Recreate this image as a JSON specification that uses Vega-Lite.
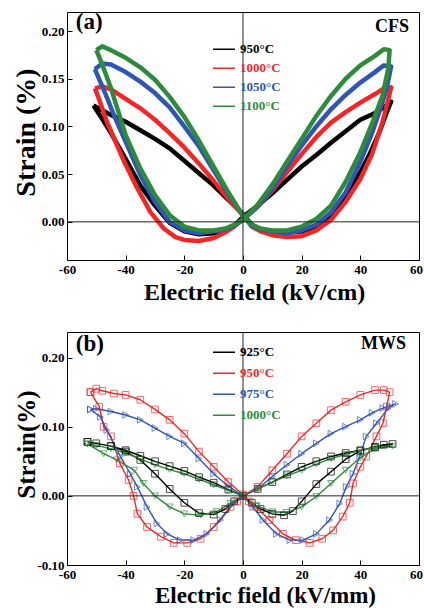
{
  "$schema": "https://vega.github.io/schema/vega-lite/v6.json",
  "background": "white",
  "padding": {"left": 11, "top": 10, "right": 0, "bottom": 0},
  "spacing": 26,
  "config": {
    "font": "Liberation Serif",
    "view": {"stroke": "#000000", "strokeWidth": 1},
    "axis": {"domain": false, "grid": false, "ticks": true, "tickColor": "#000000", "tickWidth": 1, "labelFont": "Liberation Serif", "labelFontWeight": "bold", "labelFontSize": 13, "labelColor": "#000000", "labelPadding": 8, "labelOverlap": false, "labelFlush": false, "titleFont": "Liberation Serif", "titleFontWeight": "bold", "titleColor": "#000000", "titleBaseline": "alphabetic"},
    "legend": {"labelFont": "Liberation Serif", "labelFontWeight": "bold", "labelFontSize": 13, "padding": 0, "title": null}
  },
  "datasets": {
    "a": [
      {"s":"950°C","i":0,"E":-51,"S":0.122},{"s":"950°C","i":1,"E":-48,"S":0.117},{"s":"950°C","i":2,"E":-45,"S":0.112},{"s":"950°C","i":3,"E":-40,"S":0.105},{"s":"950°C","i":4,"E":-35,"S":0.096},{"s":"950°C","i":5,"E":-30,"S":0.087},{"s":"950°C","i":6,"E":-25,"S":0.077},{"s":"950°C","i":7,"E":-20,"S":0.064},{"s":"950°C","i":8,"E":-15,"S":0.051},{"s":"950°C","i":9,"E":-10,"S":0.038},{"s":"950°C","i":10,"E":-5,"S":0.023},{"s":"950°C","i":11,"E":0,"S":0.008},
      {"s":"950°C","i":12,"E":3,"S":-0.003},{"s":"950°C","i":13,"E":6,"S":-0.008},{"s":"950°C","i":14,"E":10,"S":-0.010},{"s":"950°C","i":15,"E":15,"S":-0.011},{"s":"950°C","i":16,"E":20,"S":-0.010},{"s":"950°C","i":17,"E":25,"S":-0.005},{"s":"950°C","i":18,"E":30,"S":0.007},{"s":"950°C","i":19,"E":35,"S":0.028},{"s":"950°C","i":20,"E":40,"S":0.052},{"s":"950°C","i":21,"E":43,"S":0.070},{"s":"950°C","i":22,"E":46.5,"S":0.094},{"s":"950°C","i":23,"E":49,"S":0.115},{"s":"950°C","i":24,"E":50.5,"S":0.126},
      {"s":"950°C","i":25,"E":48,"S":0.120},{"s":"950°C","i":26,"E":45,"S":0.114},{"s":"950°C","i":27,"E":40,"S":0.107},{"s":"950°C","i":28,"E":35,"S":0.095},{"s":"950°C","i":29,"E":30,"S":0.083},{"s":"950°C","i":30,"E":25,"S":0.070},{"s":"950°C","i":31,"E":20,"S":0.058},{"s":"950°C","i":32,"E":15,"S":0.044},{"s":"950°C","i":33,"E":10,"S":0.030},{"s":"950°C","i":34,"E":5,"S":0.017},{"s":"950°C","i":35,"E":0,"S":0.005},
      {"s":"950°C","i":36,"E":-3,"S":-0.004},{"s":"950°C","i":37,"E":-6,"S":-0.008},{"s":"950°C","i":38,"E":-10,"S":-0.012},{"s":"950°C","i":39,"E":-15,"S":-0.013},{"s":"950°C","i":40,"E":-20,"S":-0.010},{"s":"950°C","i":41,"E":-25,"S":-0.001},{"s":"950°C","i":42,"E":-30,"S":0.017},{"s":"950°C","i":43,"E":-35,"S":0.038},{"s":"950°C","i":44,"E":-40,"S":0.066},{"s":"950°C","i":45,"E":-45,"S":0.093},{"s":"950°C","i":46,"E":-48,"S":0.108},{"s":"950°C","i":47,"E":-51,"S":0.122},

      {"s":"1000°C","i":0,"E":-50.5,"S":0.140},{"s":"1000°C","i":1,"E":-48,"S":0.142},{"s":"1000°C","i":2,"E":-45,"S":0.139},{"s":"1000°C","i":3,"E":-40,"S":0.129},{"s":"1000°C","i":4,"E":-35,"S":0.119},{"s":"1000°C","i":5,"E":-30,"S":0.107},{"s":"1000°C","i":6,"E":-25,"S":0.093},{"s":"1000°C","i":7,"E":-20,"S":0.078},{"s":"1000°C","i":8,"E":-15,"S":0.061},{"s":"1000°C","i":9,"E":-10,"S":0.043},{"s":"1000°C","i":10,"E":-5,"S":0.024},{"s":"1000°C","i":11,"E":0,"S":0.007},
      {"s":"1000°C","i":12,"E":3,"S":-0.005},{"s":"1000°C","i":13,"E":6,"S":-0.010},{"s":"1000°C","i":14,"E":10,"S":-0.014},{"s":"1000°C","i":15,"E":15,"S":-0.016},{"s":"1000°C","i":16,"E":20,"S":-0.015},{"s":"1000°C","i":17,"E":25,"S":-0.009},{"s":"1000°C","i":18,"E":30,"S":0.002},{"s":"1000°C","i":19,"E":35,"S":0.021},{"s":"1000°C","i":20,"E":40,"S":0.045},{"s":"1000°C","i":21,"E":44,"S":0.071},{"s":"1000°C","i":22,"E":47.5,"S":0.104},{"s":"1000°C","i":23,"E":49.5,"S":0.128},{"s":"1000°C","i":24,"E":50.5,"S":0.141},
      {"s":"1000°C","i":25,"E":48,"S":0.140},{"s":"1000°C","i":26,"E":45,"S":0.134},{"s":"1000°C","i":27,"E":40,"S":0.125},{"s":"1000°C","i":28,"E":35,"S":0.115},{"s":"1000°C","i":29,"E":30,"S":0.104},{"s":"1000°C","i":30,"E":25,"S":0.089},{"s":"1000°C","i":31,"E":20,"S":0.071},{"s":"1000°C","i":32,"E":15,"S":0.052},{"s":"1000°C","i":33,"E":10,"S":0.033},{"s":"1000°C","i":34,"E":5,"S":0.016},{"s":"1000°C","i":35,"E":0,"S":0.003},
      {"s":"1000°C","i":36,"E":-3,"S":-0.005},{"s":"1000°C","i":37,"E":-6,"S":-0.011},{"s":"1000°C","i":38,"E":-10,"S":-0.017},{"s":"1000°C","i":39,"E":-15,"S":-0.020},{"s":"1000°C","i":40,"E":-20,"S":-0.019},{"s":"1000°C","i":41,"E":-23,"S":-0.016},{"s":"1000°C","i":42,"E":-27,"S":-0.007},{"s":"1000°C","i":43,"E":-31.5,"S":0.010},{"s":"1000°C","i":44,"E":-36,"S":0.035},{"s":"1000°C","i":45,"E":-40.5,"S":0.063},{"s":"1000°C","i":46,"E":-46.4,"S":0.105},{"s":"1000°C","i":47,"E":-49,"S":0.128},{"s":"1000°C","i":48,"E":-50.5,"S":0.140},

      {"s":"1050°C","i":0,"E":-50.5,"S":0.160},{"s":"1050°C","i":1,"E":-48,"S":0.166},{"s":"1050°C","i":2,"E":-45,"S":0.165},{"s":"1050°C","i":3,"E":-40,"S":0.157},{"s":"1050°C","i":4,"E":-35,"S":0.147},{"s":"1050°C","i":5,"E":-30,"S":0.135},{"s":"1050°C","i":6,"E":-25,"S":0.120},{"s":"1050°C","i":7,"E":-20,"S":0.100},{"s":"1050°C","i":8,"E":-15,"S":0.079},{"s":"1050°C","i":9,"E":-10,"S":0.054},{"s":"1050°C","i":10,"E":-5,"S":0.029},{"s":"1050°C","i":11,"E":0,"S":0.007},
      {"s":"1050°C","i":12,"E":3,"S":-0.004},{"s":"1050°C","i":13,"E":6,"S":-0.008},{"s":"1050°C","i":14,"E":10,"S":-0.010},{"s":"1050°C","i":15,"E":15,"S":-0.012},{"s":"1050°C","i":16,"E":20,"S":-0.009},{"s":"1050°C","i":17,"E":25,"S":-0.003},{"s":"1050°C","i":18,"E":30,"S":0.010},{"s":"1050°C","i":19,"E":35,"S":0.031},{"s":"1050°C","i":20,"E":40,"S":0.063},{"s":"1050°C","i":21,"E":44,"S":0.093},{"s":"1050°C","i":22,"E":47,"S":0.120},{"s":"1050°C","i":23,"E":49,"S":0.140},{"s":"1050°C","i":24,"E":50.5,"S":0.163},
      {"s":"1050°C","i":25,"E":48,"S":0.164},{"s":"1050°C","i":26,"E":45,"S":0.157},{"s":"1050°C","i":27,"E":40,"S":0.146},{"s":"1050°C","i":28,"E":35,"S":0.133},{"s":"1050°C","i":29,"E":30,"S":0.118},{"s":"1050°C","i":30,"E":25,"S":0.100},{"s":"1050°C","i":31,"E":20,"S":0.080},{"s":"1050°C","i":32,"E":15,"S":0.058},{"s":"1050°C","i":33,"E":10,"S":0.035},{"s":"1050°C","i":34,"E":5,"S":0.016},{"s":"1050°C","i":35,"E":0,"S":0.002},
      {"s":"1050°C","i":36,"E":-3,"S":-0.004},{"s":"1050°C","i":37,"E":-6,"S":-0.008},{"s":"1050°C","i":38,"E":-10,"S":-0.010},{"s":"1050°C","i":39,"E":-15,"S":-0.012},{"s":"1050°C","i":40,"E":-20,"S":-0.009},{"s":"1050°C","i":41,"E":-25,"S":0.000},{"s":"1050°C","i":42,"E":-30,"S":0.021},{"s":"1050°C","i":43,"E":-35,"S":0.049},{"s":"1050°C","i":44,"E":-40,"S":0.084},{"s":"1050°C","i":45,"E":-44,"S":0.112},{"s":"1050°C","i":46,"E":-47,"S":0.135},{"s":"1050°C","i":47,"E":-50.5,"S":0.160},

      {"s":"1100°C","i":0,"E":-50,"S":0.180},{"s":"1100°C","i":1,"E":-48,"S":0.184},{"s":"1100°C","i":2,"E":-45,"S":0.180},{"s":"1100°C","i":3,"E":-40,"S":0.172},{"s":"1100°C","i":4,"E":-35,"S":0.162},{"s":"1100°C","i":5,"E":-30,"S":0.149},{"s":"1100°C","i":6,"E":-25,"S":0.131},{"s":"1100°C","i":7,"E":-20,"S":0.110},{"s":"1100°C","i":8,"E":-15,"S":0.085},{"s":"1100°C","i":9,"E":-10,"S":0.058},{"s":"1100°C","i":10,"E":-5,"S":0.031},{"s":"1100°C","i":11,"E":0,"S":0.006},
      {"s":"1100°C","i":12,"E":3,"S":-0.003},{"s":"1100°C","i":13,"E":6,"S":-0.007},{"s":"1100°C","i":14,"E":10,"S":-0.009},{"s":"1100°C","i":15,"E":15,"S":-0.009},{"s":"1100°C","i":16,"E":20,"S":-0.005},{"s":"1100°C","i":17,"E":25,"S":0.003},{"s":"1100°C","i":18,"E":30,"S":0.017},{"s":"1100°C","i":19,"E":35,"S":0.042},{"s":"1100°C","i":20,"E":40,"S":0.073},{"s":"1100°C","i":21,"E":44,"S":0.103},{"s":"1100°C","i":22,"E":47.5,"S":0.132},{"s":"1100°C","i":23,"E":49.5,"S":0.160},{"s":"1100°C","i":24,"E":50,"S":0.180},
      {"s":"1100°C","i":25,"E":48,"S":0.181},{"s":"1100°C","i":26,"E":45,"S":0.174},{"s":"1100°C","i":27,"E":40,"S":0.164},{"s":"1100°C","i":28,"E":35,"S":0.150},{"s":"1100°C","i":29,"E":30,"S":0.132},{"s":"1100°C","i":30,"E":25,"S":0.111},{"s":"1100°C","i":31,"E":20,"S":0.087},{"s":"1100°C","i":32,"E":15,"S":0.063},{"s":"1100°C","i":33,"E":10,"S":0.039},{"s":"1100°C","i":34,"E":5,"S":0.018},{"s":"1100°C","i":35,"E":0,"S":0.002},
      {"s":"1100°C","i":36,"E":-3,"S":-0.003},{"s":"1100°C","i":37,"E":-6,"S":-0.007},{"s":"1100°C","i":38,"E":-10,"S":-0.009},{"s":"1100°C","i":39,"E":-15,"S":-0.009},{"s":"1100°C","i":40,"E":-20,"S":-0.005},{"s":"1100°C","i":41,"E":-25,"S":0.007},{"s":"1100°C","i":42,"E":-30,"S":0.028},{"s":"1100°C","i":43,"E":-35,"S":0.056},{"s":"1100°C","i":44,"E":-40,"S":0.091},{"s":"1100°C","i":45,"E":-45,"S":0.140},{"s":"1100°C","i":46,"E":-48,"S":0.165},{"s":"1100°C","i":47,"E":-50,"S":0.180}
    ],
    "b": [
      {"s":"925°C","i":0,"E":-53,"S":0.078},{"s":"925°C","i":1,"E":-50,"S":0.076},{"s":"925°C","i":2,"E":-45,"S":0.072},{"s":"925°C","i":3,"E":-40,"S":0.066},{"s":"925°C","i":4,"E":-35,"S":0.058},{"s":"925°C","i":5,"E":-30,"S":0.050},{"s":"925°C","i":6,"E":-25,"S":0.043},{"s":"925°C","i":7,"E":-20,"S":0.036},{"s":"925°C","i":8,"E":-15,"S":0.027},{"s":"925°C","i":9,"E":-10,"S":0.019},{"s":"925°C","i":10,"E":-5,"S":0.009},{"s":"925°C","i":11,"E":0,"S":0.000},
      {"s":"925°C","i":12,"E":3,"S":-0.010},{"s":"925°C","i":13,"E":6,"S":-0.019},{"s":"925°C","i":14,"E":10,"S":-0.026},{"s":"925°C","i":15,"E":14,"S":-0.028},{"s":"925°C","i":16,"E":17,"S":-0.022},{"s":"925°C","i":17,"E":20,"S":-0.008},{"s":"925°C","i":18,"E":25,"S":0.017},{"s":"925°C","i":19,"E":30,"S":0.035},{"s":"925°C","i":20,"E":35,"S":0.053},{"s":"925°C","i":21,"E":40,"S":0.065},{"s":"925°C","i":22,"E":45,"S":0.071},{"s":"925°C","i":23,"E":51,"S":0.075},
      {"s":"925°C","i":24,"E":48,"S":0.074},{"s":"925°C","i":25,"E":45,"S":0.070},{"s":"925°C","i":26,"E":40,"S":0.066},{"s":"925°C","i":27,"E":35,"S":0.062},{"s":"925°C","i":28,"E":30,"S":0.057},{"s":"925°C","i":29,"E":25,"S":0.050},{"s":"925°C","i":30,"E":20,"S":0.042},{"s":"925°C","i":31,"E":15,"S":0.031},{"s":"925°C","i":32,"E":10,"S":0.020},{"s":"925°C","i":33,"E":5,"S":0.010},{"s":"925°C","i":34,"E":0,"S":0.000},
      {"s":"925°C","i":35,"E":-3,"S":-0.008},{"s":"925°C","i":36,"E":-6,"S":-0.019},{"s":"925°C","i":37,"E":-10,"S":-0.027},{"s":"925°C","i":38,"E":-15,"S":-0.025},{"s":"925°C","i":39,"E":-20,"S":-0.010},{"s":"925°C","i":40,"E":-25,"S":0.010},{"s":"925°C","i":41,"E":-30,"S":0.032},{"s":"925°C","i":42,"E":-35,"S":0.052},{"s":"925°C","i":43,"E":-40,"S":0.064},{"s":"925°C","i":44,"E":-45,"S":0.072},{"s":"925°C","i":45,"E":-53,"S":0.078},

      {"s":"950°C","i":0,"E":-52,"S":0.150},{"s":"950°C","i":1,"E":-50,"S":0.155},{"s":"950°C","i":2,"E":-48,"S":0.152},{"s":"950°C","i":3,"E":-44,"S":0.148},{"s":"950°C","i":4,"E":-40,"S":0.146},{"s":"950°C","i":5,"E":-35,"S":0.139},{"s":"950°C","i":6,"E":-30,"S":0.125},{"s":"950°C","i":7,"E":-25,"S":0.110},{"s":"950°C","i":8,"E":-20,"S":0.090},{"s":"950°C","i":9,"E":-15,"S":0.064},{"s":"950°C","i":10,"E":-10,"S":0.042},{"s":"950°C","i":11,"E":-5,"S":0.020},{"s":"950°C","i":12,"E":0,"S":0.002},
      {"s":"950°C","i":13,"E":2,"S":-0.008},{"s":"950°C","i":14,"E":4.5,"S":-0.016},{"s":"950°C","i":15,"E":9,"S":-0.035},{"s":"950°C","i":16,"E":13.6,"S":-0.055},{"s":"950°C","i":17,"E":18,"S":-0.064},{"s":"950°C","i":18,"E":22.7,"S":-0.068},{"s":"950°C","i":19,"E":27,"S":-0.062},{"s":"950°C","i":20,"E":30.7,"S":-0.050},{"s":"950°C","i":21,"E":34,"S":-0.030},{"s":"950°C","i":22,"E":36.4,"S":-0.010},{"s":"950°C","i":23,"E":37.5,"S":0.018},{"s":"950°C","i":24,"E":40,"S":0.042},{"s":"950°C","i":25,"E":42,"S":0.057},{"s":"950°C","i":26,"E":45.5,"S":0.086},{"s":"950°C","i":27,"E":47.7,"S":0.105},{"s":"950°C","i":28,"E":49,"S":0.129},{"s":"950°C","i":29,"E":50,"S":0.150},
      {"s":"950°C","i":30,"E":48,"S":0.153},{"s":"950°C","i":31,"E":45,"S":0.153},{"s":"950°C","i":32,"E":40,"S":0.146},{"s":"950°C","i":33,"E":35,"S":0.136},{"s":"950°C","i":34,"E":30,"S":0.124},{"s":"950°C","i":35,"E":25,"S":0.105},{"s":"950°C","i":36,"E":20,"S":0.086},{"s":"950°C","i":37,"E":15,"S":0.061},{"s":"950°C","i":38,"E":10,"S":0.037},{"s":"950°C","i":39,"E":5,"S":0.013},{"s":"950°C","i":40,"E":0,"S":0.000},
      {"s":"950°C","i":41,"E":-2,"S":-0.008},{"s":"950°C","i":42,"E":-4.3,"S":-0.016},{"s":"950°C","i":43,"E":-10,"S":-0.045},{"s":"950°C","i":44,"E":-14.5,"S":-0.062},{"s":"950°C","i":45,"E":-19,"S":-0.068},{"s":"950°C","i":46,"E":-23.6,"S":-0.068},{"s":"950°C","i":47,"E":-28,"S":-0.059},{"s":"950°C","i":48,"E":-32.7,"S":-0.045},{"s":"950°C","i":49,"E":-36,"S":-0.026},{"s":"950°C","i":50,"E":-37.3,"S":0.000},{"s":"950°C","i":51,"E":-39,"S":0.023},{"s":"950°C","i":52,"E":-42,"S":0.047},{"s":"950°C","i":53,"E":-45,"S":0.086},{"s":"950°C","i":54,"E":-47.5,"S":0.100},{"s":"950°C","i":55,"E":-49,"S":0.129},{"s":"950°C","i":56,"E":-52,"S":0.150},

      {"s":"975°C","i":0,"E":-52,"S":0.125},{"s":"975°C","i":1,"E":-50,"S":0.126},{"s":"975°C","i":2,"E":-45,"S":0.122},{"s":"975°C","i":3,"E":-40,"S":0.117},{"s":"975°C","i":4,"E":-35,"S":0.110},{"s":"975°C","i":5,"E":-30,"S":0.098},{"s":"975°C","i":6,"E":-25,"S":0.086},{"s":"975°C","i":7,"E":-20,"S":0.076},{"s":"975°C","i":8,"E":-15,"S":0.054},{"s":"975°C","i":9,"E":-10,"S":0.032},{"s":"975°C","i":10,"E":-5,"S":0.014},{"s":"975°C","i":11,"E":0,"S":0.000},
      {"s":"975°C","i":12,"E":3.4,"S":-0.016},{"s":"975°C","i":13,"E":6.8,"S":-0.035},{"s":"975°C","i":14,"E":11.4,"S":-0.055},{"s":"975°C","i":15,"E":16,"S":-0.064},{"s":"975°C","i":16,"E":20.5,"S":-0.064},{"s":"975°C","i":17,"E":25,"S":-0.055},{"s":"975°C","i":18,"E":29.5,"S":-0.035},{"s":"975°C","i":19,"E":33,"S":-0.011},{"s":"975°C","i":20,"E":35.2,"S":0.013},{"s":"975°C","i":21,"E":37.5,"S":0.032},{"s":"975°C","i":22,"E":39.8,"S":0.057},{"s":"975°C","i":23,"E":42,"S":0.086},{"s":"975°C","i":24,"E":45.5,"S":0.105},{"s":"975°C","i":25,"E":50,"S":0.129},{"s":"975°C","i":26,"E":52,"S":0.133},
      {"s":"975°C","i":27,"E":47.7,"S":0.127},{"s":"975°C","i":28,"E":44,"S":0.120},{"s":"975°C","i":29,"E":40,"S":0.110},{"s":"975°C","i":30,"E":35,"S":0.100},{"s":"975°C","i":31,"E":30,"S":0.090},{"s":"975°C","i":32,"E":25,"S":0.076},{"s":"975°C","i":33,"E":20,"S":0.061},{"s":"975°C","i":34,"E":15,"S":0.045},{"s":"975°C","i":35,"E":10,"S":0.028},{"s":"975°C","i":36,"E":5,"S":0.010},{"s":"975°C","i":37,"E":0,"S":0.000},
      {"s":"975°C","i":38,"E":-3.2,"S":-0.011},{"s":"975°C","i":39,"E":-7.7,"S":-0.035},{"s":"975°C","i":40,"E":-12.3,"S":-0.055},{"s":"975°C","i":41,"E":-16.8,"S":-0.064},{"s":"975°C","i":42,"E":-21.4,"S":-0.064},{"s":"975°C","i":43,"E":-25.9,"S":-0.055},{"s":"975°C","i":44,"E":-29.3,"S":-0.040},{"s":"975°C","i":45,"E":-32.7,"S":-0.016},{"s":"975°C","i":46,"E":-36,"S":0.013},{"s":"975°C","i":47,"E":-38.4,"S":0.032},{"s":"975°C","i":48,"E":-41.8,"S":0.057},{"s":"975°C","i":49,"E":-46.4,"S":0.095},{"s":"975°C","i":50,"E":-48.6,"S":0.114},{"s":"975°C","i":51,"E":-52,"S":0.125},

      {"s":"1000°C","i":0,"E":-53,"S":0.075},{"s":"1000°C","i":1,"E":-50,"S":0.073},{"s":"1000°C","i":2,"E":-45,"S":0.068},{"s":"1000°C","i":3,"E":-40,"S":0.062},{"s":"1000°C","i":4,"E":-35,"S":0.053},{"s":"1000°C","i":5,"E":-30,"S":0.045},{"s":"1000°C","i":6,"E":-25,"S":0.038},{"s":"1000°C","i":7,"E":-20,"S":0.032},{"s":"1000°C","i":8,"E":-15,"S":0.024},{"s":"1000°C","i":9,"E":-10,"S":0.016},{"s":"1000°C","i":10,"E":-5,"S":0.008},{"s":"1000°C","i":11,"E":0,"S":0.000},
      {"s":"1000°C","i":12,"E":4.5,"S":-0.014},{"s":"1000°C","i":13,"E":10,"S":-0.023},{"s":"1000°C","i":14,"E":14.8,"S":-0.024},{"s":"1000°C","i":15,"E":20,"S":-0.016},{"s":"1000°C","i":16,"E":25,"S":-0.001},{"s":"1000°C","i":17,"E":30,"S":0.018},{"s":"1000°C","i":18,"E":35,"S":0.037},{"s":"1000°C","i":19,"E":40,"S":0.055},{"s":"1000°C","i":20,"E":45,"S":0.068},{"s":"1000°C","i":21,"E":51,"S":0.072},
      {"s":"1000°C","i":22,"E":45,"S":0.070},{"s":"1000°C","i":23,"E":40,"S":0.066},{"s":"1000°C","i":24,"E":35,"S":0.060},{"s":"1000°C","i":25,"E":30,"S":0.054},{"s":"1000°C","i":26,"E":25,"S":0.046},{"s":"1000°C","i":27,"E":20,"S":0.037},{"s":"1000°C","i":28,"E":15,"S":0.029},{"s":"1000°C","i":29,"E":10,"S":0.020},{"s":"1000°C","i":30,"E":5,"S":0.010},{"s":"1000°C","i":31,"E":0,"S":0.000},
      {"s":"1000°C","i":32,"E":-4.3,"S":-0.011},{"s":"1000°C","i":33,"E":-9,"S":-0.023},{"s":"1000°C","i":34,"E":-14.5,"S":-0.028},{"s":"1000°C","i":35,"E":-20,"S":-0.026},{"s":"1000°C","i":36,"E":-25,"S":-0.016},{"s":"1000°C","i":37,"E":-30,"S":0.000},{"s":"1000°C","i":38,"E":-34,"S":0.018},{"s":"1000°C","i":39,"E":-37,"S":0.037},{"s":"1000°C","i":40,"E":-43,"S":0.052},{"s":"1000°C","i":41,"E":-47.5,"S":0.061},{"s":"1000°C","i":42,"E":-53,"S":0.075}
    ]
  },
  "resolve": {"scale": {"color": "independent"}, "legend": {"color": "independent"}},
  "vconcat": [
    {
      "width": 352,
      "height": 248,
      "layer": [
        {
          "data": {"name": "a"},
          "mark": {"type": "line", "strokeWidth": 4.5, "strokeJoin": "round", "clip": true},
          "encoding": {
            "x": {"field": "E", "type": "quantitative", "scale": {"domain": [-60, 60], "nice": false, "zero": false},
                  "axis": {"title": "Electric field (kV/cm)", "titleFontSize": 24, "titleX": 187, "titleY": 39, "values": [-60,-50,-40,-30,-20,-10,0,10,20,30,40,50,60],
                           "labelExpr": "datum.value % 20 === 0 ? '' + datum.value : ''",
                           "labelOffset": {"condition": {"test": "datum.value === 60", "value": -3}, "value": 0},
                           "tickSize": {"condition": {"test": "datum.value % 20 === 0", "value": -5}, "value": -3}}},
            "y": {"field": "S", "type": "quantitative", "scale": {"domain": [-0.04, 0.22], "nice": false, "zero": false},
                  "axis": {"title": "Strain (%)", "titleFontSize": 28, "titleX": -33, "titleY": 120, "values": [0, 0.05, 0.1, 0.15, 0.2], "tickSize": -5,
                           "labelExpr": "replace(format(datum.value, '.2f'), '\u2212', '-')"}},
            "color": {"field": "s", "type": "nominal",
                      "scale": {"domain": ["950°C", "1000°C", "1050°C", "1100°C"], "range": ["#000000", "#f52525", "#2f55b5", "#2e8b3c"]},
                      "legend": {"orient": "none", "legendX": 146, "legendY": 28, "symbolType": "M-2,0H2", "symbolSize": 196, "symbolStrokeWidth": 1.5, "labelOffset": 11, "rowPadding": 0, "clipHeight": 18.7,
                                 "encode": {"labels": {"update": {"fill": {"signal": "datum.index === 0 ? '#000000' : datum.index === 1 ? '#f52525' : datum.index === 2 ? '#2f55b5' : '#2e8b3c'"}}}}}},
            "order": {"field": "i", "type": "quantitative"}
          }
        },
        {"data": {"values": [{}]}, "mark": {"type": "rule", "color": "#222222", "strokeWidth": 1}, "encoding": {"y": {"datum": 0, "type": "quantitative"}}},
        {"data": {"values": [{}]}, "mark": {"type": "rule", "color": "#222222", "strokeWidth": 1}, "encoding": {"x": {"datum": 0, "type": "quantitative"}}},
        {"data": {"values": [{"t": "(a)", "E": -57, "S": 0.202}]}, "mark": {"type": "text", "align": "left", "baseline": "alphabetic", "fontSize": 23, "fontWeight": "bold", "font": "Liberation Serif", "color": "#000000"},
         "encoding": {"x": {"field": "E", "type": "quantitative"}, "y": {"field": "S", "type": "quantitative"}, "text": {"field": "t"}}},
        {"data": {"values": [{"t": "CFS", "E": 56.6, "S": 0.199}]}, "mark": {"type": "text", "align": "right", "baseline": "alphabetic", "fontSize": 18, "fontWeight": "bold", "font": "Liberation Serif", "color": "#000000"},
         "encoding": {"x": {"field": "E", "type": "quantitative"}, "y": {"field": "S", "type": "quantitative"}, "text": {"field": "t"}}}
      ]
    },
    {
      "width": 352,
      "height": 233,
      "layer": [
        {
          "data": {"name": "b"},
          "mark": {"type": "line", "strokeWidth": 1.4, "strokeJoin": "round", "clip": true},
          "encoding": {
            "x": {"field": "E", "type": "quantitative", "scale": {"domain": [-60, 60], "nice": false, "zero": false},
                  "axis": {"title": "Electric field (kV/mm)", "titleFontSize": 23, "titleX": 198, "titleY": 37, "values": [-60,-50,-40,-30,-20,-10,0,10,20,30,40,50,60],
                           "labelExpr": "datum.value % 20 === 0 ? '' + datum.value : ''",
                           "labelOffset": {"condition": {"test": "datum.value === 60", "value": -3}, "value": 0},
                           "tickSize": {"condition": {"test": "datum.value % 20 === 0", "value": -5}, "value": -3}}},
            "y": {"field": "S", "type": "quantitative", "scale": {"domain": [-0.1, 0.237], "nice": false, "zero": false},
                  "axis": {"title": "Strain(%)", "titleFontSize": 25, "titleX": -33, "titleY": 112, "values": [-0.1, -0.05, 0, 0.05, 0.1, 0.15, 0.2], "tickSize": -5,
                           "labelExpr": "replace(format(datum.value, '.2f'), '\u2212', '-')"}},
            "color": {"field": "s", "type": "nominal",
                      "scale": {"domain": ["925°C", "950°C", "975°C", "1000°C"], "range": ["#000000", "#f52525", "#2f55b5", "#2e8b3c"]},
                      "legend": {"orient": "none", "legendX": 146, "legendY": 10, "symbolType": "M-2,0H2", "symbolSize": 196, "symbolStrokeWidth": 1.5, "labelOffset": 11, "rowPadding": 0, "clipHeight": 20.3,
                                 "encode": {"labels": {"update": {"fill": {"signal": "datum.index === 0 ? '#000000' : datum.index === 1 ? '#f52525' : datum.index === 2 ? '#2f55b5' : '#2e8b3c'"}}}}}},
            "order": {"field": "i", "type": "quantitative"}
          }
        },
        {"data": {"name": "b"}, "transform": [{"filter": "datum.s === '925°C'"}], "mark": {"type": "point", "shape": "square", "filled": false, "size": 45, "strokeWidth": 1, "color": "#000000", "clip": true},
         "encoding": {"x": {"field": "E", "type": "quantitative"}, "y": {"field": "S", "type": "quantitative"}}},
        {"data": {"name": "b"}, "transform": [{"filter": "datum.s === '950°C'"}], "mark": {"type": "point", "shape": "square", "filled": false, "size": 45, "strokeWidth": 1, "color": "#f52525", "clip": true},
         "encoding": {"x": {"field": "E", "type": "quantitative"}, "y": {"field": "S", "type": "quantitative"}}},
        {"data": {"name": "b"}, "transform": [{"filter": "datum.s === '975°C'"}], "mark": {"type": "point", "shape": "triangle-right", "filled": false, "size": 45, "strokeWidth": 1, "color": "#2f55b5", "clip": true},
         "encoding": {"x": {"field": "E", "type": "quantitative"}, "y": {"field": "S", "type": "quantitative"}}},
        {"data": {"name": "b"}, "transform": [{"filter": "datum.s === '1000°C'"}], "mark": {"type": "point", "shape": "triangle-down", "filled": false, "size": 45, "strokeWidth": 1, "color": "#2e8b3c", "clip": true},
         "encoding": {"x": {"field": "E", "type": "quantitative"}, "y": {"field": "S", "type": "quantitative"}}},
        {"data": {"values": [{}]}, "mark": {"type": "rule", "color": "#222222", "strokeWidth": 1}, "encoding": {"y": {"datum": 0, "type": "quantitative"}}},
        {"data": {"values": [{}]}, "mark": {"type": "rule", "color": "#222222", "strokeWidth": 1}, "encoding": {"x": {"datum": 0, "type": "quantitative"}}},
        {"data": {"values": [{"t": "(b)", "E": -57, "S": 0.210}]}, "mark": {"type": "text", "align": "left", "baseline": "alphabetic", "fontSize": 23, "fontWeight": "bold", "font": "Liberation Serif", "color": "#000000"},
         "encoding": {"x": {"field": "E", "type": "quantitative"}, "y": {"field": "S", "type": "quantitative"}, "text": {"field": "t"}}},
        {"data": {"values": [{"t": "MWS", "E": 55.6, "S": 0.212}]}, "mark": {"type": "text", "align": "right", "baseline": "alphabetic", "fontSize": 18, "fontWeight": "bold", "font": "Liberation Serif", "color": "#000000"},
         "encoding": {"x": {"field": "E", "type": "quantitative"}, "y": {"field": "S", "type": "quantitative"}, "text": {"field": "t"}}}
      ]
    }
  ]
}
